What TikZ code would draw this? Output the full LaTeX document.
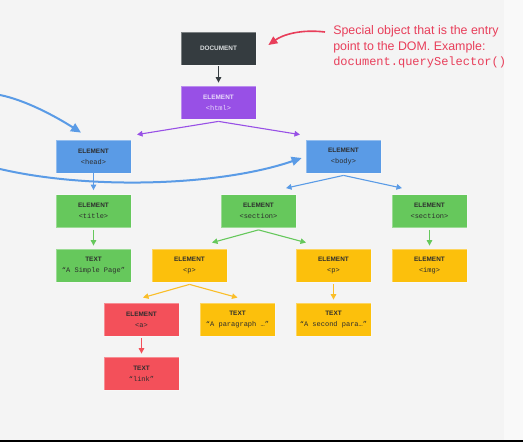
\documentclass[tikz,border=0pt]{standalone}
\usepackage{fontspec}
\setmainfont{Liberation Sans}
\newfontfamily\codefont{Liberation Mono}
\usetikzlibrary{arrows.meta,calc}

\definecolor{pagebg}{RGB}{244,244,244}
\definecolor{pageedge}{RGB}{249,249,249}
\definecolor{docgray}{RGB}{53,60,64}
\definecolor{doctext}{RGB}{218,221,223}
\definecolor{htmlpurple}{RGB}{152,80,230}
\definecolor{htmltext}{RGB}{232,218,250}
\definecolor{domblue}{RGB}{90,155,230}
\definecolor{domgreen}{RGB}{102,200,92}
\definecolor{domyellow}{RGB}{252,192,12}
\definecolor{arrowyellow}{RGB}{250,190,40}
\definecolor{domred}{RGB}{243,80,90}
\definecolor{notered}{RGB}{232,62,90}
\definecolor{labelgray}{RGB}{45,45,45}

\tikzset{every picture/.style={line width=0.5pt}}
\tikzset{
  dombox/.style={draw=white, draw opacity=0.35, line width=0.8pt, minimum width=75pt, minimum height=33pt, inner sep=0pt, align=center, text=labelgray, font=\fontsize{6.4pt}{11pt}\selectfont\bfseries},
  kid/.style={-{Triangle[length=5.5pt,width=5.5pt]}, line width=1.1pt},
  bigkid/.style={-{Triangle[length=10pt,width=9pt]}, line width=2pt, domblue},
}
\newcommand{\domlabel}[2]{#1\\{\codefont\mdseries\fontsize{7pt}{11pt}\selectfont #2}}

\begin{document}
\begin{tikzpicture}[x=1pt,y=1pt,yscale=-1,xscale=1]
\useasboundingbox (0,0) rectangle (523,442);
%Shape: Rectangle
\fill [pagebg] (0,0) rectangle (523,440);
\fill [pageedge] (504,0) rectangle (523,440);
\fill [black] (0,440) rectangle (523,442);

% Text Node
\node [dombox, fill=docgray, text=doctext] (doc) at (218.5,48.5) {DOCUMENT};
% Text Node
\node [dombox, fill=htmlpurple, text=htmltext] (html) at (218.5,102.5) {\domlabel{ELEMENT}{<html>}};
% Text Node
\node [dombox, fill=domblue] (head) at (93.5,156.5) {\domlabel{ELEMENT}{<head>}};
% Text Node
\node [dombox, fill=domblue] (body) at (343.5,156.5) {\domlabel{ELEMENT}{<body>}};
% Text Node
\node [dombox, fill=domgreen] (title) at (93.5,211) {\domlabel{ELEMENT}{<title>}};
% Text Node
\node [dombox, fill=domgreen] (sectA) at (258.5,211) {\domlabel{ELEMENT}{<section>}};
% Text Node
\node [dombox, fill=domgreen] (sectB) at (429.5,211) {\domlabel{ELEMENT}{<section>}};
% Text Node
\node [dombox, fill=domgreen] (pagetext) at (93.5,265.5) {\domlabel{TEXT}{“A Simple Page”}};
% Text Node
\node [dombox, fill=domyellow] (pA) at (189.5,265.5) {\domlabel{ELEMENT}{<p>}};
% Text Node
\node [dombox, fill=domyellow] (pB) at (333.5,265.5) {\domlabel{ELEMENT}{<p>}};
% Text Node
\node [dombox, fill=domyellow] (img) at (429.5,265.5) {\domlabel{ELEMENT}{<img>}};
% Text Node
\node [dombox, fill=domred] (anchor) at (141.5,319.5) {\domlabel{ELEMENT}{<a>}};
% Text Node
\node [dombox, fill=domyellow] (paratext) at (237.5,319.5) {\domlabel{TEXT}{“A paragraph …”}};
% Text Node
\node [dombox, fill=domyellow] (secondtext) at (333.5,319.5) {\domlabel{TEXT}{“A second para…”}};
% Text Node
\node [dombox, fill=domred] (linktext) at (141.5,373.5) {\domlabel{TEXT}{“link”}};
% Text Node
\node [anchor=north west, inner sep=0pt, align=left, text=notered, font=\fontsize{12.4pt}{15.5pt}\selectfont] (note) at (333,25.5) {Special object that is the entry\\point to the DOM. Example:\\{\codefont\fontsize{12pt}{15.5pt}\selectfont document.querySelector()}};

%Straight Lines
\draw [kid, docgray, shorten <=1pt, shorten >=3pt] (doc) -- (html);
\draw [kid, htmlpurple] ($(html.south)+(0,2)$) -- ($(head.north)+(43.5,-5)$);
\draw [kid, htmlpurple] ($(html.south)+(0,2)$) -- ($(body.north)+(-43.5,-5)$);
\draw [kid, domblue, shorten >=4pt] (head) -- (title);
\draw [kid, domblue] ($(body.south)+(0,2)$) -- ($(sectA.north)+(27.5,-6)$);
\draw [kid, domblue] ($(body.south)+(0,2)$) -- ($(sectB.north)+(-27.5,-6)$);
\draw [kid, domgreen, shorten <=2pt, shorten >=3pt] (title) -- (pagetext);
\draw [kid, domgreen] ($(sectA.south)+(0,2)$) -- ($(pA.north)+(22.5,-6)$);
\draw [kid, domgreen] ($(sectA.south)+(0,2)$) -- ($(pB.north)+(-27.5,-6)$);
\draw [kid, domgreen, shorten <=2pt, shorten >=3pt] (sectB) -- (img);
\draw [kid, arrowyellow] ($(pA.south)+(0,2)$) -- ($(anchor.north)+(1.5,-5)$);
\draw [kid, arrowyellow] ($(pA.south)+(0,2)$) -- ($(paratext.north)+(0,-5)$);
\draw [kid, arrowyellow, shorten <=2pt, shorten >=3pt] (pB) -- (secondtext);
\draw [kid, domred, shorten <=2pt, shorten >=3pt] (anchor) -- (linktext);

%Curve Lines
\coordinate (headfeed) at (0,95);
\coordinate (bodyfeed) at (0,169);
\draw [bigkid] (headfeed) .. controls (25,100) and (55,116) .. ($(head.north)+(-12.5,-7)$);
\draw [bigkid] (bodyfeed) .. controls (90,190) and (220,186) .. ($(body.west)+(-4,1.5)$);
\draw [notered, line width=1.6pt, -{Triangle[length=9pt,width=8pt]}] ($(note.north west)+(-8,6.5)$) .. controls +(-25,-3) and +(14,-10) .. ($(doc.east)+(12,-3.5)$);
\end{tikzpicture}
\end{document}
